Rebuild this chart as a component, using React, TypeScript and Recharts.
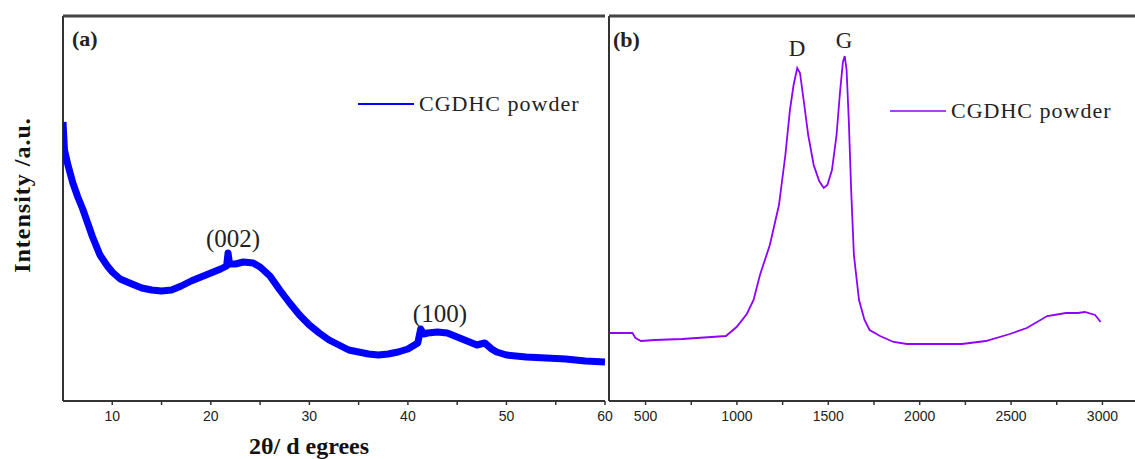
import React from 'react';
import { LineChart, Line, XAxis, YAxis, Legend, ReferenceDot, ReferenceLine, Label } from 'recharts';

// XRD pattern (a): 2θ (degrees) and intensity (a.u.)
const xrdAngle = [5, 5.15, 5.5, 6, 6.5, 7, 7.5, 8, 8.75, 9.5, 10, 10.8, 12, 13, 14, 15, 16, 17, 18, 19, 20, 21, 21.6, 21.75, 21.9, 22.5, 23.3, 24.3, 25, 26, 27, 28, 29, 30, 31, 32, 33, 34, 35, 36, 37, 38, 39, 40, 41, 41.3, 41.6, 42, 43, 44, 45, 46, 47, 47.8, 48.5, 49, 50, 52, 54, 56, 58, 60];
const xrdIntensity = [279, 251, 236, 218, 204, 192, 178, 164, 146, 135, 129, 122, 117, 113, 111, 110, 111, 115, 120, 124, 128, 132, 135, 148, 137, 137, 139, 138, 134, 125, 111, 98, 86, 76, 68, 61, 56, 51, 49, 47, 46, 47, 49, 52, 58, 72, 67, 68, 69, 68, 64, 60, 56, 58, 52, 49, 46, 44, 43, 42, 40, 39];

// Raman spectrum (b): shift (cm-1) and intensity (a.u.)
const ramanShift = [300, 428, 445, 475, 550, 700, 940, 998, 1054, 1091, 1126, 1180, 1230, 1265, 1290, 1310, 1330, 1345, 1365, 1390, 1420, 1450, 1475, 1495, 1520, 1545, 1565, 1580, 1590, 1600, 1612, 1625, 1640, 1668, 1698, 1726, 1783, 1857, 1931, 2231, 2362, 2493, 2586, 2698, 2800, 2866, 2903, 2960, 2990];
const ramanIntensity = [68, 68, 63, 60, 61, 62, 65, 74, 87, 101, 126, 156, 196, 246, 291, 316, 333, 328, 301, 266, 236, 220, 213, 216, 231, 266, 311, 339, 345, 331, 281, 211, 146, 101, 81, 71, 65, 59, 57, 57, 60, 67, 73, 85, 88, 88, 89, 86, 79];

const xrdTicks = [10, 15, 20, 25, 30, 35, 40, 45, 50, 55, 60];
const ramanTicks = [500, 750, 1000, 1250, 1500, 1750, 2000, 2250, 2500, 2750, 3000];

const seriesName = 'CGDHC powder';

const xrdData = xrdAngle.map((x, i) => ({ x, y: xrdIntensity[i] }));
const ramanData = ramanShift.map((x, i) => ({ x, y: ramanIntensity[i] }));

const AX = '#333';
const serif = '"Liberation Serif", "Times New Roman", serif';
const sans = '"Liberation Sans", Arial, sans-serif';

const tickStyle = { fontSize: 14, fill: '#222', fontFamily: sans };

const makeLegend = (lineW: number) => (props: any) => {
  const p = props.payload && props.payload[0];
  return (
    <div style={{ display: 'flex', alignItems: 'center' }}>
      <svg width={56} height={4} style={{ display: 'block' }}>
        <line x1={0} y1={2} x2={56} y2={2} stroke={p ? p.color : '#000'} strokeWidth={lineW} />
      </svg>
      <span style={{ marginLeft: 5, fontFamily: serif, fontSize: 22, letterSpacing: 1, color: '#222', lineHeight: '24px', whiteSpace: 'nowrap' }}>
        {p ? p.value : ''}
      </span>
    </div>
  );
};

const annot = (value: string, size: number) => (
  <Label value={value} position="center" fill="#222" fontSize={size} fontFamily={serif} />
);

export default function App() {
  return (
    <div style={{ position: 'absolute', left: 0, top: 0, width: 1135, height: 459, overflow: 'hidden', background: '#fff' }}>
      <div style={{ position: 'absolute', left: 0, top: 0 }}>
        <LineChart width={620} height={459} data={xrdData} margin={{ top: 16, right: 15, bottom: 0, left: 63 }}>
          <XAxis dataKey="x" type="number" domain={[5, 60]} ticks={xrdTicks} interval={0} allowDataOverflow
            height={58} axisLine={{ stroke: AX, strokeWidth: 2 }} tickLine={{ stroke: AX, strokeWidth: 1.5 }}
            tickSize={4} tickMargin={6} tick={tickStyle}
            tickFormatter={(v: number) => (v % 10 === 0 ? String(v) : '')} />
          <YAxis type="number" domain={[0, 385]} hide allowDataOverflow />
          <ReferenceLine x={5} stroke={AX} strokeWidth={2} />
          <ReferenceLine y={385} stroke="#444" strokeWidth={3} />
          <Line type="linear" dataKey="y" name={seriesName} stroke="#0000ff" strokeWidth={7}
            strokeLinejoin="round" dot={false} isAnimationActive={false} />
          <ReferenceDot x={22.25} y={163} r={0} stroke="none" fill="none" label={annot('(002)', 25)} />
          <ReferenceDot x={43.25} y={88} r={0} stroke="none" fill="none" label={annot('(100)', 25)} />
          <Legend layout="horizontal" verticalAlign="middle" align="center" content={makeLegend(2)}
            wrapperStyle={{ left: 358, top: 92, width: 'auto' }} />
        </LineChart>
      </div>
      <div style={{ position: 'absolute', left: 560, top: 0 }}>
        <LineChart width={580} height={459} data={ramanData} margin={{ top: 16, right: 1, bottom: 0, left: 49 }}>
          <XAxis dataKey="x" type="number" domain={[300, 3200]} ticks={ramanTicks} interval={0} allowDataOverflow
            height={58} axisLine={{ stroke: AX, strokeWidth: 2 }} tickLine={{ stroke: AX, strokeWidth: 1.5 }}
            tickSize={4} tickMargin={6} tick={tickStyle}
            tickFormatter={(v: number) => (v % 500 === 0 ? String(v) : '')} />
          <YAxis type="number" domain={[0, 385]} hide allowDataOverflow />
          <ReferenceLine x={300} stroke={AX} strokeWidth={2} />
          <ReferenceLine y={385} stroke="#444" strokeWidth={3} />
          <Line type="linear" dataKey="y" name={seriesName} stroke="#8f00ff" strokeWidth={1.8}
            dot={false} isAnimationActive={false} />
          <ReferenceDot x={1329} y={353} r={0} stroke="none" fill="none" label={annot('D', 23)} />
          <ReferenceDot x={1586} y={361} r={0} stroke="none" fill="none" label={annot('G', 23)} />
          <Legend layout="horizontal" verticalAlign="middle" align="center" content={makeLegend(1.6)}
            wrapperStyle={{ left: 330, top: 99, width: 'auto' }} />
        </LineChart>
      </div>
      <svg width={1135} height={459} style={{ position: 'absolute', left: 0, top: 0, pointerEvents: 'none' }}>
        <text x={72} y={38} dominantBaseline="central" fontFamily={serif} fontWeight="bold" fontSize={22} fill="#222">(a)</text>
        <text x={613} y={39} dominantBaseline="central" fontFamily={serif} fontWeight="bold" fontSize={22} fill="#222">(b)</text>
        <text x={0} y={0} transform="translate(22,195) rotate(-90)" textAnchor="middle" dominantBaseline="central"
          fontFamily={serif} fontWeight="bold" fontSize={24} letterSpacing={1} fill="#111">Intensity /a.u.</text>
        <text x={309} y={446} textAnchor="middle" dominantBaseline="central" fontFamily={serif} fontWeight="bold"
          fontSize={24} fill="#111">2θ/ d egrees</text>
      </svg>
    </div>
  );
}
